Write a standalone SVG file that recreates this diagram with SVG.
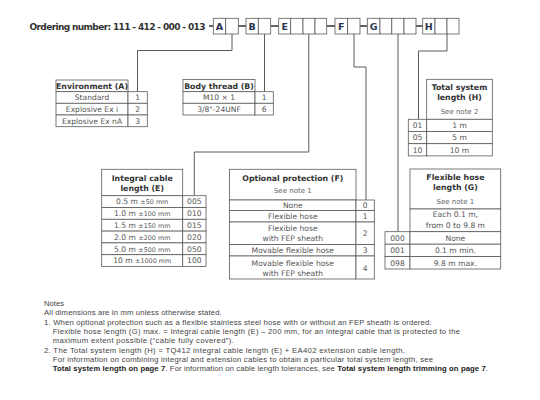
<svg xmlns="http://www.w3.org/2000/svg" width="540" height="400" viewBox="0 0 540 400">
<style>
.c{fill:#fff;stroke:#5a5a5a;stroke-width:0.8}
.k{fill:none;stroke:#5a5a5a;stroke-width:1}
.d{stroke:#222;stroke-width:1.4}
text{font-family:"DejaVu Sans","Liberation Sans",sans-serif}
.t{font-size:7.6px;fill:#555;text-anchor:middle}
.s{font-size:7px;fill:#666;text-anchor:middle}
.h{font-size:7.8px;fill:#333;font-weight:bold;text-anchor:middle}
.l{font-size:9.5px;fill:#2a3550;font-weight:bold;text-anchor:middle}
.n{font-size:7.7px;fill:#444;font-family:"Liberation Sans",sans-serif}
</style>
<rect width="540" height="400" fill="#fff"/>
<g id="ordering">
<text x="29.5" y="29.5" font-size="9" font-weight="bold" fill="#333" font-family="Liberation Sans,sans-serif" textLength="176" lengthAdjust="spacing">Ordering number:  111 - 412 - 000 - 013</text>
<line class="d" x1="209" y1="26" x2="213.3" y2="26"/>
<line class="d" x1="238.3" y1="26" x2="246" y2="26"/>
<line class="d" x1="270.7" y1="26" x2="278.7" y2="26"/>
<line class="d" x1="326.7" y1="26" x2="335" y2="26"/>
<line class="d" x1="360" y1="26" x2="367.3" y2="26"/>
<line class="d" x1="416" y1="26" x2="422.7" y2="26"/>
<g class="c">
<rect x="213.3" y="18.3" width="12.4" height="15.7"/><rect x="225.7" y="18.3" width="12.6" height="15.7"/>
<rect x="246" y="18.3" width="12.3" height="15.7"/><rect x="258.3" y="18.3" width="12.4" height="15.7"/>
<rect x="278.7" y="18.3" width="12" height="15.7"/><rect x="290.7" y="18.3" width="12.3" height="15.7"/><rect x="303" y="18.3" width="12" height="15.7"/><rect x="315" y="18.3" width="11.7" height="15.7"/>
<rect x="335" y="18.3" width="12.7" height="15.7"/><rect x="347.7" y="18.3" width="12.3" height="15.7"/>
<rect x="367.3" y="18.3" width="12.7" height="15.7"/><rect x="380" y="18.3" width="11.8" height="15.7"/><rect x="391.8" y="18.3" width="12.2" height="15.7"/><rect x="404" y="18.3" width="12" height="15.7"/>
<rect x="422.7" y="18.3" width="12.3" height="15.7"/><rect x="435" y="18.3" width="12" height="15.7"/><rect x="447" y="18.3" width="12" height="15.7"/>
</g>
<text class="l" x="219.5" y="29.5">A</text>
<text class="l" x="252.2" y="29.5">B</text>
<text class="l" x="284.7" y="29.5">E</text>
<text class="l" x="341.3" y="29.5">F</text>
<text class="l" x="373.6" y="29.5">G</text>
<text class="l" x="428.8" y="29.5">H</text>
</g>
<g id="connectors" class="k">
<path d="M232,34 V50.5 H137.5 V91.7"/>
<path d="M264.5,34 V91.7"/>
<path d="M308.8,34 V152 H194.3 V195.7"/>
<path d="M354,34 V67 H366 V200"/>
<path d="M398,34 V231.7"/>
<path d="M447,34 V51 H418.5 V119.3"/>
</g>
<g id="environment">
<rect class="c" x="56" y="80" width="72" height="11.7"/>
<rect class="c" x="56" y="91.7" width="72" height="11.6"/><rect class="c" x="128" y="91.7" width="19.3" height="11.6"/>
<rect class="c" x="56" y="103.3" width="72" height="11.7"/><rect class="c" x="128" y="103.3" width="19.3" height="11.7"/>
<rect class="c" x="56" y="115" width="72" height="11.7"/><rect class="c" x="128" y="115" width="19.3" height="11.7"/>
<text class="h" x="92" y="88.8">Environment (A)</text>
<text class="t" x="92" y="100.3">Standard</text><text class="t" x="137.6" y="100.3">1</text>
<text class="t" x="92" y="112">Explosive Ex i</text><text class="t" x="137.6" y="112">2</text>
<text class="t" x="92" y="123.7">Explosive Ex nA</text><text class="t" x="137.6" y="123.7">3</text>
</g>
<g id="bodythread">
<rect class="c" x="183" y="79.5" width="72" height="12.2"/>
<rect class="c" x="183" y="91.7" width="72" height="11.6"/><rect class="c" x="255" y="91.7" width="18.3" height="11.6"/>
<rect class="c" x="183" y="103.3" width="72" height="11.7"/><rect class="c" x="255" y="103.3" width="18.3" height="11.7"/>
<text class="h" x="219" y="88.6">Body thread (B)</text>
<text class="t" x="219" y="100.3">M10 × 1</text><text class="t" x="264.2" y="100.3">1</text>
<text class="t" x="219" y="112">3/8"-24UNF</text><text class="t" x="264.2" y="112">6</text>
</g>
<g id="totallength">
<rect class="c" x="426.7" y="79.3" width="65.6" height="40"/>
<rect class="c" x="408.3" y="119.3" width="18.4" height="12.2"/><rect class="c" x="426.7" y="119.3" width="65.6" height="12.2"/>
<rect class="c" x="408.3" y="131.5" width="18.4" height="12.2"/><rect class="c" x="426.7" y="131.5" width="65.6" height="12.2"/>
<rect class="c" x="408.3" y="143.7" width="18.4" height="12.2"/><rect class="c" x="426.7" y="143.7" width="65.6" height="12.2"/>
<text class="h" x="459.5" y="89.5">Total system</text>
<text class="h" x="459.5" y="99.5">length (H)</text>
<text class="s" x="459.5" y="114">See note 2</text>
<text class="t" x="417.5" y="128.2">01</text><text class="t" x="459.5" y="128.2">1 m</text>
<text class="t" x="417.5" y="140.4">05</text><text class="t" x="459.5" y="140.4">5 m</text>
<text class="t" x="417.5" y="152.6">10</text><text class="t" x="459.5" y="152.6">10 m</text>
</g>
<g id="integralcable">
<rect class="c" x="101.7" y="169.3" width="81" height="26.4"/>
<rect class="c" x="101.7" y="195.7" width="81" height="11.8"/><rect class="c" x="182.7" y="195.7" width="23.3" height="11.8"/>
<rect class="c" x="101.7" y="207.5" width="81" height="11.8"/><rect class="c" x="182.7" y="207.5" width="23.3" height="11.8"/>
<rect class="c" x="101.7" y="219.3" width="81" height="11.8"/><rect class="c" x="182.7" y="219.3" width="23.3" height="11.8"/>
<rect class="c" x="101.7" y="231.1" width="81" height="11.8"/><rect class="c" x="182.7" y="231.1" width="23.3" height="11.8"/>
<rect class="c" x="101.7" y="242.9" width="81" height="11.8"/><rect class="c" x="182.7" y="242.9" width="23.3" height="11.8"/>
<rect class="c" x="101.7" y="254.7" width="81" height="11.8"/><rect class="c" x="182.7" y="254.7" width="23.3" height="11.8"/>
<text class="h" x="142.2" y="181">Integral cable</text>
<text class="h" x="142.2" y="191">length (E)</text>
<text class="t" x="142.2" y="204.4">0.5 m <tspan font-size="6.4">±50 mm</tspan></text><text class="t" x="194.3" y="204.4">005</text>
<text class="t" x="142.2" y="216.2">1.0 m <tspan font-size="6.4">±100 mm</tspan></text><text class="t" x="194.3" y="216.2">010</text>
<text class="t" x="142.2" y="228">1.5 m <tspan font-size="6.4">±150 mm</tspan></text><text class="t" x="194.3" y="228">015</text>
<text class="t" x="142.2" y="239.8">2.0 m <tspan font-size="6.4">±200 mm</tspan></text><text class="t" x="194.3" y="239.8">020</text>
<text class="t" x="142.2" y="251.6">5.0 m <tspan font-size="6.4">±500 mm</tspan></text><text class="t" x="194.3" y="251.6">050</text>
<text class="t" x="142.2" y="263.4">10 m <tspan font-size="6.4">±1000 mm</tspan></text><text class="t" x="194.3" y="263.4">100</text>
</g>
<g id="protection">
<rect class="c" x="229.5" y="169.3" width="126.5" height="30.7"/>
<rect class="c" x="229.5" y="200" width="126.5" height="10.5"/><rect class="c" x="356" y="200" width="18.3" height="10.5"/>
<rect class="c" x="229.5" y="210.5" width="126.5" height="11.5"/><rect class="c" x="356" y="210.5" width="18.3" height="11.5"/>
<rect class="c" x="229.5" y="222" width="126.5" height="22.5"/><rect class="c" x="356" y="222" width="18.3" height="22.5"/>
<rect class="c" x="229.5" y="244.5" width="126.5" height="11.5"/><rect class="c" x="356" y="244.5" width="18.3" height="11.5"/>
<rect class="c" x="229.5" y="256" width="126.5" height="23"/><rect class="c" x="356" y="256" width="18.3" height="23"/>
<text class="h" x="292.8" y="181">Optional protection (F)</text>
<text class="s" x="292.8" y="192.5">See note 1</text>
<text class="t" x="292.8" y="208">None</text><text class="t" x="365.2" y="208">0</text>
<text class="t" x="292.8" y="219">Flexible hose</text><text class="t" x="365.2" y="219">1</text>
<text class="t" x="292.8" y="231">Flexible hose</text>
<text class="t" x="292.8" y="241">with FEP sheath</text><text class="t" x="365.2" y="236">2</text>
<text class="t" x="292.8" y="253">Movable flexible hose</text><text class="t" x="365.2" y="253">3</text>
<text class="t" x="292.8" y="265.5">Movable flexible hose</text>
<text class="t" x="292.8" y="276">with FEP sheath</text><text class="t" x="365.2" y="270.5">4</text>
</g>
<g id="hoselength">
<rect class="c" x="410" y="169" width="90.7" height="40"/>
<rect class="c" x="410" y="209" width="90.7" height="22.7"/>
<rect class="c" x="385" y="231.7" width="25" height="12.5"/><rect class="c" x="410" y="231.7" width="90.7" height="12.5"/>
<rect class="c" x="385" y="244.2" width="25" height="12.4"/><rect class="c" x="410" y="244.2" width="90.7" height="12.4"/>
<rect class="c" x="385" y="256.6" width="25" height="12.4"/><rect class="c" x="410" y="256.6" width="90.7" height="12.4"/>
<text class="h" x="455.4" y="179.5">Flexible hose</text>
<text class="h" x="455.4" y="190">length (G)</text>
<text class="s" x="455.4" y="204.3">See note 1</text>
<text class="t" x="455.4" y="217.3">Each 0.1 m,</text>
<text class="t" x="455.4" y="227.8">from 0 to 9.8 m</text>
<text class="t" x="397.5" y="240.8">000</text><text class="t" x="455.4" y="240.8">None</text>
<text class="t" x="397.5" y="253.2">001</text><text class="t" x="455.4" y="253.2">0.1 m min.</text>
<text class="t" x="397.5" y="265.6">098</text><text class="t" x="455.4" y="265.6">9.8 m max.</text>
</g>
<g id="notes">
<text class="n" x="44" y="305.5">Notes</text>
<text class="n" x="44" y="315" textLength="177.7" lengthAdjust="spacing">All dimensions are in mm unless otherwise stated.</text>
<text class="n" x="44" y="324.5" textLength="387.7" lengthAdjust="spacing">1. When optional protection such as a flexible stainless steel hose with or without an FEP sheath is ordered:</text>
<text class="n" x="52.7" y="333.7" textLength="407.3" lengthAdjust="spacing">Flexible hose length (G) max. = Integral cable length (E) – 200 mm, for an integral cable that is protected to the</text>
<text class="n" x="52.7" y="342.9" textLength="181" lengthAdjust="spacing">maximum extent possible (“cable fully covered”).</text>
<text class="n" x="44" y="352.6" textLength="361" lengthAdjust="spacing">2. The Total system length (H) = TQ412 integral cable length (E) + EA402 extension cable length.</text>
<text class="n" x="52.7" y="361.8" textLength="380.3" lengthAdjust="spacing">For information on combining integral and extension cables to obtain a particular total system length, see</text>
<text class="n" x="52.7" y="371" textLength="435.3" lengthAdjust="spacing"><tspan font-weight="bold" fill="#222">Total system length on page 7</tspan>. For information on cable length tolerances, see <tspan font-weight="bold" fill="#222">Total system length trimming on page 7</tspan>.</text>
</g>
</svg>
